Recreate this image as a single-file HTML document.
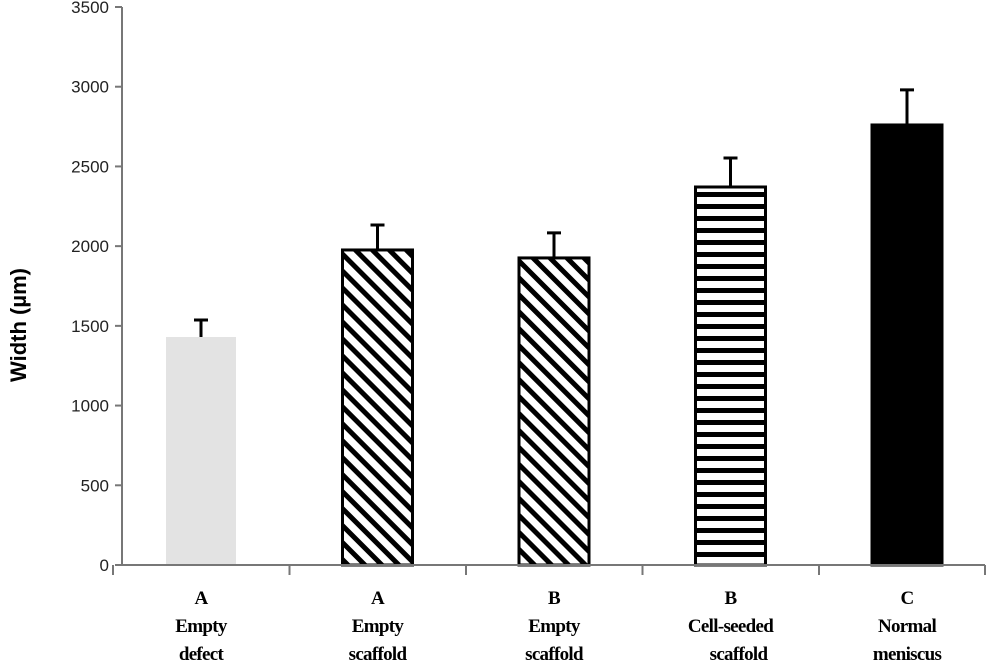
<!DOCTYPE html>
<html><head><meta charset="utf-8"><style>
body{margin:0;background:#fff;width:986px;height:662px;overflow:hidden}
svg text{font-family:"Liberation Sans",sans-serif}
.cat{font-family:"Liberation Serif",serif;font-size:19px;font-weight:bold;letter-spacing:-0.7px}
</style></head><body>
<svg id="c" width="986" height="662">
<defs>
<pattern id="diag" patternUnits="userSpaceOnUse" width="12" height="12" patternTransform="rotate(-45)">
<rect width="12" height="12" fill="#fff"/><rect x="0" y="0" width="5" height="12" fill="#000"/></pattern>
<pattern id="horiz" patternUnits="userSpaceOnUse" width="10" height="12">
<rect width="10" height="12" fill="#fff"/><rect y="0" width="10" height="5" fill="#000"/></pattern>
</defs>
</svg>
<script>
const categories=["Empty defect","Empty scaffold","Empty scaffold","Cell-seeded scaffold","Normal meniscus"];
const catLine1=["Empty","Empty","Empty","Cell-seeded","Normal"];
const catLine2=["defect","scaffold","scaffold","scaffold","meniscus"];
const groups=["A","A","B","B","C"];
const values=[1430,1976,1926,2371,2760];
const errors=[107,157,157,182,220];
const yTicks=[0,500,1000,1500,2000,2500,3000,3500];
const svg=document.getElementById('c');const NS='http://www.w3.org/2000/svg';
const y0=565,pxPer=558/3500;
function y(v){return y0-v*pxPer}
function xc(i){return 201+i*176.5}
function mk(t,a,p){const e=document.createElementNS(NS,t);for(const k in a)e.setAttribute(k,a[k]);(p||svg).appendChild(e);return e}
const fills=["#e3e3e3","url(#diag)","url(#diag)","url(#horiz)","#000"];
const strokes=["none","#000","#000","#000","#000"];
values.forEach((v,i)=>{
 const b=mk('rect',{x:xc(i)-35,y:y(v),width:70,height:y0-y(v),fill:fills[i],stroke:strokes[i],'stroke-width':3});
 
 
 const e=mk('path',{d:`M${xc(i)} ${y(v)}V${y(v+errors[i])}M${xc(i)-7} ${y(v+errors[i])}H${xc(i)+7}`,stroke:'#000','stroke-width':3,fill:'none'});
 
 
 const g=mk('text',{x:xc(i),y:604,'text-anchor':'middle',class:'cat'});g.textContent=groups[i];
 
 
 const t=mk('text',{x:xc(i),y:632,'text-anchor':'middle',class:'cat'});
 
 
 mk('tspan',{x:xc(i)},t).textContent=catLine1[i];
 mk('tspan',{x:xc(i)+(i==3?8:0),dy:28},t).textContent=catLine2[i];
});
const ax=mk('path',{d:`M122 ${y(3500)}V${y0}H985`,stroke:'#777','stroke-width':2,fill:'none'});


yTicks.forEach(v=>{
 mk('line',{x1:115,x2:122,y1:y(v),y2:y(v),stroke:'#777','stroke-width':2});
 const t=mk('text',{x:109,y:y(v)+6,'text-anchor':'end','font-size':17,fill:'#222'});t.textContent=v;
 
 
});
for(let i=0;i<=5;i++){const x=i==5?985:xc(i)-88;mk('line',{x1:x,x2:x,y1:y0,y2:y0+10,stroke:'#777','stroke-width':2});}
const yt=mk('text',{transform:'translate(26,325) rotate(-90)','text-anchor':'middle','font-size':22,'font-weight':'bold'});
yt.textContent='Width (µm)';


</script>
</body></html>
